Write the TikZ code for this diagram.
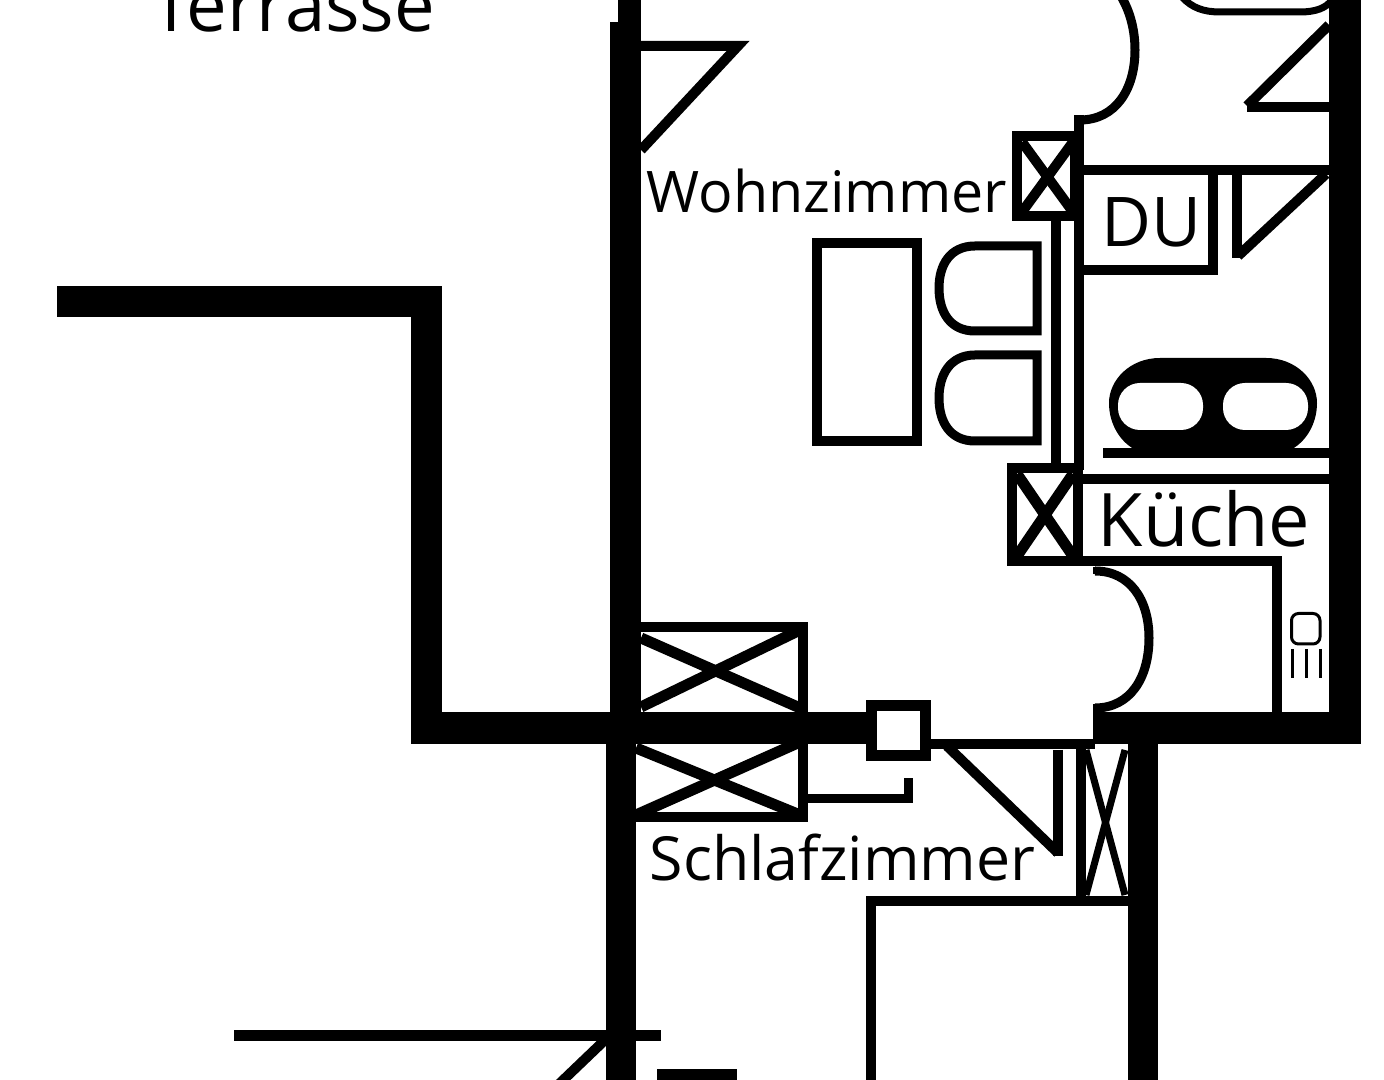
\documentclass[tikz,border=0pt]{standalone}
\usepackage{fontspec}
\setmainfont{Open Sans}
\begin{document}
\begin{tikzpicture}[
	x=0.01cm, y=-0.01cm,
	wall/.style={fill=black},
	inner/.style={draw=black, line width=0.1cm},
	door/.style={draw=black, line width=0.09cm},
	detail/.style={draw=black, line width=0.03cm},
	room/.style={anchor=base west, inner sep=0pt},
]
\clip (0,0) rectangle (1384,1080);
\fill[white] (0,0) rectangle (1384,1080);
% outer walls
\fill[wall] (57,286) rectangle (441,317);
\fill[wall] (411,286) rectangle (442,744);
\fill[wall] (411,712) rectangle (870,744);
\fill[wall] (610,22) rectangle (641,712);
\fill[wall] (618,0) rectangle (641,25);
\fill[wall] (606,744) rectangle (636,1080);
\fill[wall] (1093,712) rectangle (1361,744);
\fill[wall] (1329,0) rectangle (1361,744);
\fill[wall] (1128,744) rectangle (1158,1080);
% window boxes on the left
\draw[inner] (636,627) -- (803,627) -- (803,712);
\draw[inner, line width=0.11cm] (641,638) -- (800,708);
\draw[inner, line width=0.11cm] (641,707) -- (800,630);
\draw[inner] (803,744) -- (803,817) -- (636,817);
\draw[inner, line width=0.11cm] (636,748) -- (800,815);
\draw[inner, line width=0.11cm] (636,815) -- (800,742);
% small square and hook
\draw[inner, line width=0.11cm] (871.5,705.5) rectangle (925.5,755.5);
\draw[door] (808,799) -- (908.5,799) -- (908.5,778);
% bedroom door
\draw[inner] (931,744) -- (1095,744);
\draw[inner] (947,746) -- (1058,853);
\draw[inner] (1057.5,750) -- (1057.5,856);
% closet
\draw[inner] (1080.5,749) -- (1080.5,906);
\draw[inner, line width=0.07cm] (1086,750) -- (1125,895);
\draw[inner, line width=0.07cm] (1125,750) -- (1086,895);
\draw[inner] (871,1080) -- (871,901) -- (1130,901);
% top left door
\draw[inner] (641,46) -- (738,46) -- (641,150);
% inner wall right
\draw[inner] (1078.5,115) -- (1078.5,470);
\draw[inner] (1056,221) -- (1056,465);
\draw[inner] (1016.5,136.5) rectangle (1075,216.5);
\draw[inner] (1022,142) -- (1073,212);
\draw[inner] (1073,142) -- (1022,212);
\draw[door] (1080,120) .. controls (1115,120) and (1135,90) .. (1135,50) .. controls (1135,30) and (1130,12) .. (1122,-2);
% bath
\draw[inner] (1083,170) -- (1329,170);
\draw[inner] (1083,270) -- (1213,270) -- (1213,175);
\draw[inner] (1237,175) -- (1237,258);
\draw[inner] (1238,256) -- (1326,174);
\draw[inner] (1329,25) -- (1247,106);
\draw[inner] (1247,107.5) -- (1329,107.5);
\draw[door, line width=0.07cm] (1182,-3) .. controls (1192,8) and (1204,12) .. (1220,12) -- (1300,12) .. controls (1316,12) and (1326,8) .. (1332,0);
% table and chairs
\draw[inner] (816.5,243) rectangle (917,441);
\draw[door] (1037,246) -- (975,246) .. controls (950,246) and (939,265) .. (939,288) .. controls (939,312) and (950,331) .. (975,331) -- (1037,331) -- cycle;
\draw[door] (1037,355) -- (975,355) .. controls (950,355) and (939,375) .. (939,398) .. controls (939,422) and (950,441) .. (975,441) -- (1037,441) -- cycle;
% cooker
\fill[wall] (1160,358) -- (1266,358) .. controls (1296,358) and (1317,380) .. (1317,403) .. controls (1317,425) and (1305,442) .. (1292,449) -- (1134,449) .. controls (1121,442) and (1109,425) .. (1109,403) .. controls (1109,380) and (1130,358) .. (1160,358) -- cycle;
\fill[white, rounded corners=0.22cm] (1118,383) rectangle (1203,430);
\fill[white, rounded corners=0.22cm] (1223,383) rectangle (1308,430);
\fill[wall] (1103,448) rectangle (1329,458);
% kitchen
\draw[inner] (1083,479) -- (1329,479);
\draw[inner] (1012,468.5) rectangle (1078,561.5);
\draw[inner, line width=0.11cm] (1017,474) -- (1073,556);
\draw[inner, line width=0.11cm] (1073,474) -- (1017,556);
\draw[inner] (1078,561.5) -- (1277,561.5) -- (1277,712);
\fill[wall] (1093,567) rectangle (1103,574);
\fill[wall] (1093,704) rectangle (1103,712);
\draw[door] (1095,571) .. controls (1130,571) and (1149,600) .. (1149,638) .. controls (1149,678) and (1130,708) .. (1095,708);
\draw[detail, rounded corners=0.07cm] (1291.5,613.5) rectangle (1320,644);
\draw[detail] (1292,649) -- (1292,678);
\draw[detail] (1306,649) -- (1306,678);
\draw[detail] (1320,649) -- (1320,678);
% bottom stairs
\draw[inner, line width=0.11cm] (234,1035.5) -- (661,1035.5);
\draw[inner] (605,1040) -- (558,1085);
\fill[wall] (657,1069) rectangle (737,1080);
% labels
\node[room, font=\fontsize{16.3}{18}\selectfont] (wohnzimmer) at (646,213) {Wohnzimmer};
\node[room, font=\fontsize{17.3}{18}\selectfont] (schlafzimmer) at (649,881) {Schlafzimmer};
\node[room, font=\fontsize{21}{22}\selectfont] (kueche) at (1097,547) {Küche};
\node[room, font=\fontsize{19.5}{22}\selectfont] (du) at (1101,247) {DU};
\node[room, font=\fontsize{20.6}{22}\selectfont] (terrasse) at (151,32) {Terrasse};
\end{tikzpicture}
\end{document}
